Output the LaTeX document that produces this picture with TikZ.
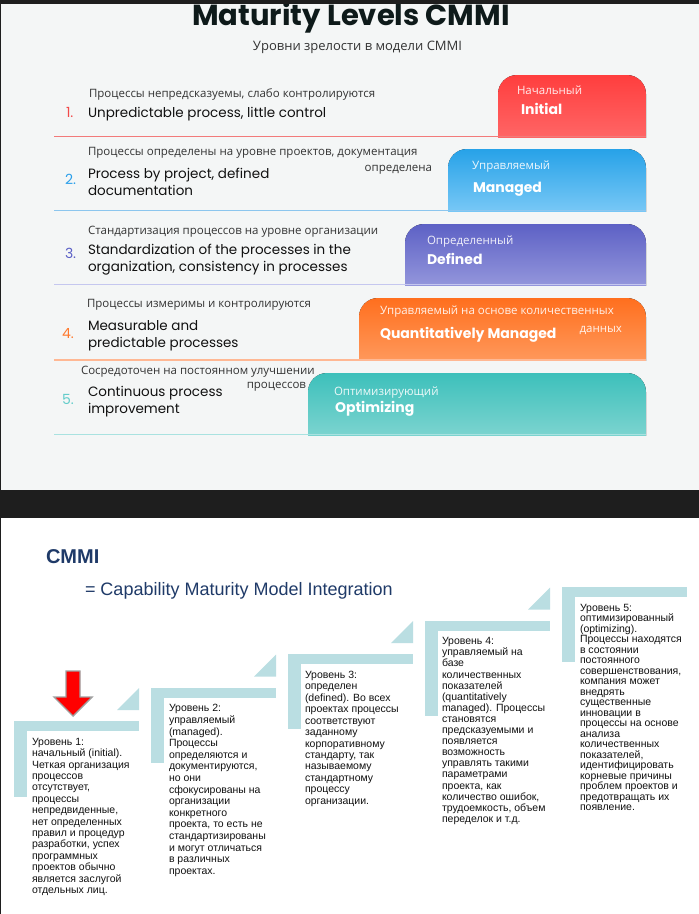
\documentclass[tikz,border=0pt]{standalone}
\usepackage{fontspec}
\setmainfont{Liberation Sans}
\newfontfamily\pop{Poppins}
\newfontfamily\ops{Open Sans}
\definecolor{darkbg}{HTML}{1E1E1E}
\definecolor{panel}{HTML}{F4F6F6}
\definecolor{titlec}{HTML}{0E1A1A}
\definecolor{rutext}{HTML}{333333}
\definecolor{entext}{HTML}{111111}
\definecolor{cA}{HTML}{F24A4A}
\definecolor{cB}{HTML}{2A9FEA}
\definecolor{cC}{HTML}{5A5FC6}
\definecolor{cD}{HTML}{FF7A2F}
\definecolor{cE}{HTML}{62CCCA}
\definecolor{tA}{HTML}{FF3E3E}\definecolor{bA}{HTML}{FF7474}
\definecolor{tB}{HTML}{27A2E8}\definecolor{bB}{HTML}{96D6FB}
\definecolor{tC}{HTML}{5D61C5}\definecolor{bC}{HTML}{A8AAE4}
\definecolor{tD}{HTML}{FF6F1E}\definecolor{bD}{HTML}{FFA872}
\definecolor{tE}{HTML}{3DC0BB}\definecolor{bE}{HTML}{93DBD7}
\definecolor{uA}{HTML}{F27A7A}
\definecolor{uB}{HTML}{8CC6EE}
\definecolor{uC}{HTML}{C5C7EF}
\definecolor{uD}{HTML}{FFB894}
\definecolor{uE}{HTML}{A9E2E0}
\definecolor{stepc}{HTML}{BADEE2}
\definecolor{navy}{HTML}{1F3A68}
\newcommand\lvlbox[5]{%
  \begin{scope}
    \clip (#1,#2) rectangle (646,#3);
    \fill[top color=#4, bottom color=#5, rounded corners=19pt] (#1,#2) rectangle (646,#3+24);
  \end{scope}}
\begin{document}
\begin{tikzpicture}[x=1pt,y=-1pt,
  every node/.style={inner sep=0pt, outer sep=0pt},
  ru/.style={font=\ops\fontsize{11.5}{13}\selectfont, text=rutext},
  en/.style={font=\pop\fontsize{13.5}{16}\selectfont, text=entext},
  num/.style={font=\pop\fontsize{14}{16}\selectfont},
  boxru/.style={font=\ops\fontsize{11.5}{13}\selectfont, text=white, text opacity=0.9},
  boxen/.style={font=\pop\bfseries\fontsize{14}{16}\selectfont, text=white},
  uline/.style={line width=1.5pt},
  steptext/.style={font=\fontsize{10.5}{11.4}\selectfont, text=entext, align=left, anchor=north west}
]
\useasboundingbox (0,0) rectangle (699,914);
\fill[darkbg] (0,0) rectangle (699,914);
\fill[panel] (1,3.5) rectangle (699,490);
\fill[white] (1,518) rectangle (699,914);

% title
\node[font=\pop\bfseries\fontsize{29}{32}\selectfont, text=titlec, anchor=base] (title) at (351,25) {Maturity Levels CMMI};
\fill[darkbg] (0,0) rectangle (699,3.5);
\node[font=\ops\fontsize{13}{15}\selectfont, text=rutext, anchor=base] (subtitle) at (357.5,50) {Уровни зрелости в модели CMMI};

% row 1
\lvlbox{498}{75}{137}{tA}{bA}
\draw[uline, uA] (54,136.5) -- (646,136.5);
\node[ru, anchor=base west] (r1ru) at (89,97) {Процессы непредсказуемы, слабо контролируются};
\node[num, text=cA, anchor=base west] (r1n) at (66,117) {1.};
\node[en, anchor=base west] (r1en) at (88,117) {Unpredictable process, little control};
\node[boxru, anchor=base west] (b1ru) at (517,94) {Начальный};
\node[boxen, anchor=base west] (b1en) at (521,114) {Initial};

% row 2
\lvlbox{448}{149}{211}{tB}{bB}
\draw[uline, uB] (54,210.5) -- (646,210.5);
\node[ru, anchor=base west] (r2ru) at (88,155) {Процессы определены на уровне проектов, документация};
\node[ru, anchor=base east] (r2rub) at (432,171) {определена};
\node[num, text=cB, anchor=base west] (r2n) at (65,184) {2.};
\node[en, anchor=base west] (r2en) at (88,178) {Process by project, defined};
\node[en, anchor=base west] (r2enb) at (88,195) {documentation};
\node[boxru, anchor=base west] (b2ru) at (472,169) {Управляемый};
\node[boxen, anchor=base west] (b2en) at (473,192) {Managed};

% row 3
\lvlbox{405}{224}{285}{tC}{bC}
\draw[uline, uC] (54,284.5) -- (646,284.5);
\node[ru, anchor=base west] (r3ru) at (88,234) {Стандартизация процессов на уровне организации};
\node[num, text=cC, anchor=base west] (r3n) at (65,258) {3.};
\node[en, anchor=base west] (r3en) at (88,254) {Standardization of the processes in the};
\node[en, anchor=base west] (r3enb) at (88,271) {organization, consistency in processes};
\node[boxru, anchor=base west] (b3ru) at (427,244) {Определенный};
\node[boxen, anchor=base west] (b3en) at (427,264) {Defined};

% row 4
\lvlbox{359}{298}{360}{tD}{bD}
\draw[uline, uD] (54,360) -- (646,360);
\node[ru, anchor=base west] (r4ru) at (87,307) {Процессы измеримы и контролируются};
\node[num, text=cD, anchor=base west] (r4n) at (62,338) {4.};
\node[en, anchor=base west] (r4en) at (88,330) {Measurable and};
\node[en, anchor=base west] (r4enb) at (88,347) {predictable processes};
\node[boxru, anchor=base west] (b4ru) at (380,314) {Управляемый на основе количественных};
\node[boxru, anchor=base east] (b4rub) at (622,332) {данных};
\node[boxen, anchor=base west] (b4en) at (380,338) {Quantitatively Managed};

% row 5
\lvlbox{308}{373}{435}{tE}{bE}
\draw[uline, uE] (54,434.5) -- (646,434.5);
\node[ru, anchor=base west] (r5ru) at (81,374) {Сосредоточен на постоянном улучшении};
\node[ru, anchor=base east] (r5rub) at (306,388) {процессов};
\node[num, text=cE, anchor=base west] (r5n) at (62,404) {5.};
\node[en, anchor=base west] (r5en) at (88,396) {Continuous process};
\node[en, anchor=base west] (r5enb) at (88,413) {improvement};
\node[boxru, anchor=base west] (b5ru) at (334,395) {Оптимизирующий};
\node[boxen, anchor=base west] (b5en) at (335,412) {Optimizing};

% bottom panel
\node[font=\bfseries\fontsize{20}{22}\selectfont, text=navy, anchor=base west] (cmmi) at (46,563) {CMMI};
\node[font=\fontsize{18}{20}\selectfont, text=navy, anchor=base west] (cmmifull) at (85,595) {= Capability Maturity Model Integration};

% steps
\foreach \x/\y/\h in {14/721/76, 151/687.5/75, 288/654/75, 425/620.5/95, 562/587/75} {
  \fill[stepc] (\x,\y) rectangle +(125,10);
  \fill[stepc] (\x,\y) rectangle +(13,\h);
}
\foreach \x/\y in {14/721, 151/687.5, 288/654, 425/620.5} {
  \fill[stepc] (\x+103,\y-11) -- (\x+125,\y-11) -- (\x+125,\y-33) -- cycle;
}

% red arrow
\filldraw[fill=red, draw=gray!75, line width=1.4pt, line join=miter]
  (66,671) -- (80,671) -- (80,697) -- (92,697) -- (73,716) -- (54,697) -- (66,697) -- cycle;

\node[steptext] (s1) at (32,738) {Уровень 1:\\начальный (initial).\\Четкая организация\\процессов\\отсутствует,\\процессы\\непредвиденные,\\нет определенных\\правил и процедур\\разработки, успех\\программных\\проектов обычно\\является заслугой\\отдельных лиц.};
\node[steptext, font=\fontsize{10.5}{11.6}\selectfont] (s2) at (169,704.5) {Уровень 2:\\управляемый\\(managed).\\Процессы\\определяются и\\документируются,\\но они\\сфокусированы на\\организации\\конкретного\\проекта, то есть не\\стандартизированы\\и могут отличаться\\в различных\\проектах.};
\node[steptext, font=\fontsize{10.5}{11.45}\selectfont] (s3) at (305,671) {Уровень 3:\\определен\\(defined). Во всех\\проектах процессы\\соответствуют\\заданному\\корпоративному\\стандарту, так\\называемому\\стандартному\\процессу\\организации.};
\node[steptext, font=\fontsize{10.5}{11.1}\selectfont] (s4) at (442,637.5) {Уровень 4:\\управляемый на\\базе\\количественных\\показателей\\(quantitatively\\managed). Процессы\\становятся\\предсказуемыми и\\появляется\\возможность\\управлять такими\\параметрами\\проекта, как\\количество ошибок,\\трудоемкость, объем\\переделок и т.д.};
\node[steptext, font=\fontsize{10.5}{10.5}\selectfont] (s5) at (580,604) {Уровень 5:\\оптимизированный\\(optimizing).\\Процессы находятся\\в состоянии\\постоянного\\совершенствования,\\компания может\\внедрять\\существенные\\инновации в\\процессы на основе\\анализа\\количественных\\показателей,\\идентифицировать\\корневые причины\\проблем проектов и\\предотвращать их\\появление.};
\end{tikzpicture}
\end{document}
